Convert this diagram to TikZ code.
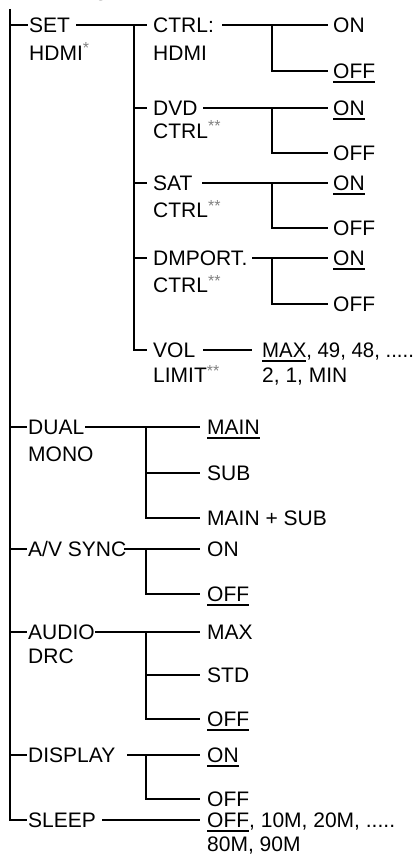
\documentclass[tikz,border=0pt]{standalone}
\usepackage{fontspec}
\setmainfont{Liberation Sans}
\newcommand\ulx[1]{\setbox0\hbox{#1}\rlap{\rule[-4.5pt]{\wd0}{1.8pt}}\box0}
\newcommand\stars[1]{\raisebox{6.5pt}{\fontsize{16}{16}\selectfont\textcolor{black!50}{#1}}}
\begin{document}
\begin{tikzpicture}[x=1pt,y=-1pt,
  ln/.style={line width=2pt, line join=miter, line cap=butt},
  lbl/.style={inner sep=0pt, anchor=west, text height=15pt, text depth=0pt, font=\fontsize{21}{25}\selectfont}]
\useasboundingbox (0,0) rectangle (416,861);
% title (cut off at top)
\node[anchor=base west, inner sep=0pt, font=\bfseries\fontsize{21}{25}\selectfont] (title) at (-6,0.5) {AMP MENU};
% ---------- level 1 ----------
\coordinate (top) at (10,9);
\node[lbl] (set) at (29,25) {SET};
\node[lbl] (set2) at (29,53) {HDMI\stars{*}};
\node[lbl] (dual) at (28,427) {DUAL};
\node[lbl] (dual2) at (28,454) {MONO};
\node[lbl] (av) at (28,549) {A/V SYNC};
\node[lbl] (audio) at (28,632) {AUDIO};
\node[lbl] (audio2) at (28,656) {DRC};
\node[lbl] (disp) at (28,755) {DISPLAY};
\node[lbl] (sleep) at (28,820) {SLEEP};
\draw[ln] (top) |- ([xshift=-1pt]sleep.west);
\foreach \n in {set,dual,av,audio,disp}{
  \draw[ln] (top |- \n.west) -- ([xshift=-1pt]\n.west);
}
% ---------- level 2 under SET ----------
\node[lbl] (ctrl) at (153,25) {CTRL:};
\node[lbl] (ctrl2) at (153,53) {HDMI};
\node[lbl] (dvd) at (153,108) {DVD};
\node[lbl] (dvd2) at (153,131) {CTRL\stars{**}};
\node[lbl] (sat) at (153,183) {SAT};
\node[lbl] (sat2) at (153,210) {CTRL\stars{**}};
\node[lbl] (dm) at (153,258) {DMPORT.};
\node[lbl] (dm2) at (153,285) {CTRL\stars{**}};
\node[lbl] (vol) at (153,350) {VOL};
\node[lbl] (vol2) at (153,375) {LIMIT\stars{**}};
\coordinate (s1) at (76,25);
\coordinate (v2) at (134,25);
\draw[ln] (s1) -- ([xshift=-6pt]ctrl.west);
\draw[ln] (v2) |- ([xshift=-6pt]vol.west);
\foreach \n in {dvd,sat,dm}{
  \draw[ln] (v2 |- \n.west) -- ([xshift=-6pt]\n.west);
}
% ---------- level 3 leaves ----------
\node[lbl] (c_on) at (333,25) {ON};
\node[lbl] (c_off) at (333,71) {\ulx{OFF}};
\node[lbl] (d_on) at (333,108) {\ulx{ON}};
\node[lbl] (d_off) at (333,153) {OFF};
\node[lbl] (s_on) at (333,183) {\ulx{ON}};
\node[lbl] (s_off) at (333,228) {OFF};
\node[lbl] (m_on) at (333,258) {\ulx{ON}};
\node[lbl] (m_off) at (333,304) {OFF};
\node[lbl] (vv) at (262,350) {\scalebox{0.97}[1]{\ulx{MAX}, 49, 48, .....}};
\node[lbl] (vv2) at (262,375) {2, 1, MIN};
\coordinate (cs) at (222,25);
\coordinate (ds) at (203,108);
\coordinate (ss) at (202,183);
\coordinate (ms) at (252,258);
\coordinate (vs) at (203,350);
\draw[ln] (cs) -- ([xshift=-5pt]c_on.west);
\draw[ln] (272,25) |- ([xshift=-5pt]c_off.west);
\draw[ln] (ds) -- ([xshift=-5pt]d_on.west);
\draw[ln] (272,108) |- ([xshift=-5pt]d_off.west);
\draw[ln] (ss) -- ([xshift=-5pt]s_on.west);
\draw[ln] (272,183) |- ([xshift=-5pt]s_off.west);
\draw[ln] (ms) -- ([xshift=-5pt]m_on.west);
\draw[ln] (272,258) |- ([xshift=-5pt]m_off.west);
\draw[ln] (vs) -- ([xshift=-10pt]vv.west);
% ---------- level 2 leaves, lower part ----------
\node[lbl] (du1) at (207,427) {\ulx{MAIN}};
\node[lbl] (du2) at (207,473) {SUB};
\node[lbl] (du3) at (207,518) {MAIN + SUB};
\node[lbl] (av1) at (207,549) {ON};
\node[lbl] (av2) at (207,594) {\ulx{OFF}};
\node[lbl] (au1) at (207,632) {MAX};
\node[lbl] (au2) at (207,675) {STD};
\node[lbl] (au3) at (207,719) {\ulx{OFF}};
\node[lbl] (di1) at (207,755) {\ulx{ON}};
\node[lbl] (di2) at (207,799) {OFF};
\node[lbl] (sl1) at (207,820) {\ulx{OFF}, 10M, 20M, .....};
\node[lbl] (sl2) at (207,844) {80M, 90M};
\coordinate (dus) at (85,427);
\coordinate (avs) at (124,549);
\coordinate (aus) at (95,632);
\coordinate (dis) at (127,755);
\coordinate (sls) at (102,820);
\draw[ln] (dus) -- ([xshift=-7pt]du1.west);
\draw[ln] (146,427) |- ([xshift=-7pt]du3.west);
\draw[ln] (146,473) -- ([xshift=-7pt]du2.west);
\draw[ln] (avs) -- ([xshift=-7pt]av1.west);
\draw[ln] (146,549) |- ([xshift=-7pt]av2.west);
\draw[ln] (aus) -- ([xshift=-7pt]au1.west);
\draw[ln] (146,632) |- ([xshift=-7pt]au3.west);
\draw[ln] (146,675) -- ([xshift=-7pt]au2.west);
\draw[ln] (dis) -- ([xshift=-7pt]di1.west);
\draw[ln] (146,755) |- ([xshift=-7pt]di2.west);
\draw[ln] (sls) -- ([xshift=-7pt]sl1.west);
\end{tikzpicture}
\end{document}
